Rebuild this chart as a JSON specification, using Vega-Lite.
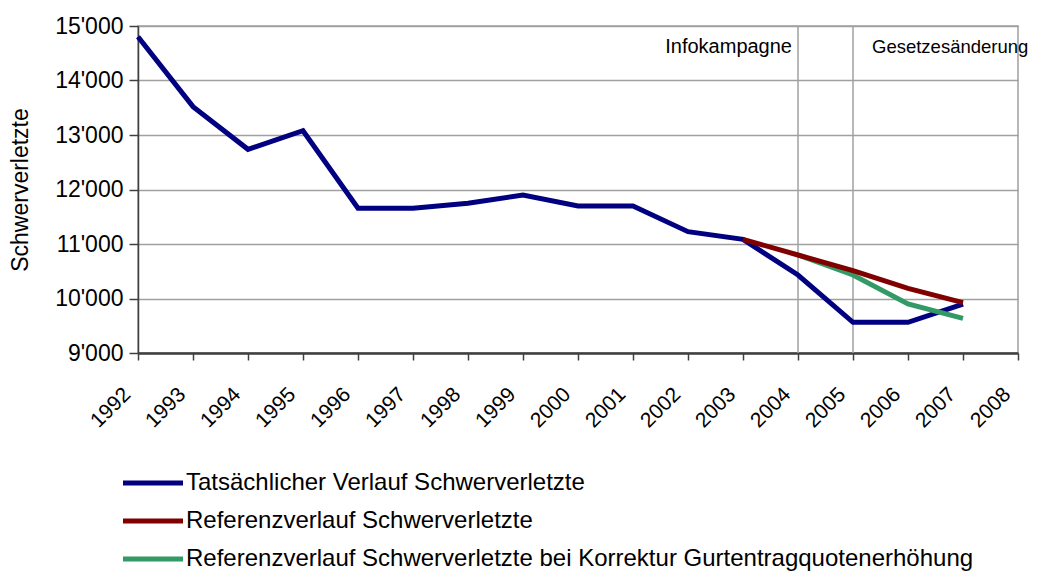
{
  "$schema": "https://vega.github.io/schema/vega-lite/v6.json",
  "width": 880,
  "height": 327,
  "autosize": {"type": "none"},
  "padding": {"left": 138, "top": 26, "right": 37, "bottom": 219},
  "background": "white",
  "config": {
    "font": "Liberation Sans",
    "view": {"stroke": "#a0a0a0", "strokeWidth": 1.5}
  },
  "datasets": {
    "series": [
      {"year": 1992, "value": 14804, "series": "Tatsächlicher Verlauf Schwerverletzte"},
      {"year": 1993, "value": 13520, "series": "Tatsächlicher Verlauf Schwerverletzte"},
      {"year": 1994, "value": 12737, "series": "Tatsächlicher Verlauf Schwerverletzte"},
      {"year": 1995, "value": 13079, "series": "Tatsächlicher Verlauf Schwerverletzte"},
      {"year": 1996, "value": 11655, "series": "Tatsächlicher Verlauf Schwerverletzte"},
      {"year": 1997, "value": 11655, "series": "Tatsächlicher Verlauf Schwerverletzte"},
      {"year": 1998, "value": 11747, "series": "Tatsächlicher Verlauf Schwerverletzte"},
      {"year": 1999, "value": 11899, "series": "Tatsächlicher Verlauf Schwerverletzte"},
      {"year": 2000, "value": 11697, "series": "Tatsächlicher Verlauf Schwerverletzte"},
      {"year": 2001, "value": 11697, "series": "Tatsächlicher Verlauf Schwerverletzte"},
      {"year": 2002, "value": 11226, "series": "Tatsächlicher Verlauf Schwerverletzte"},
      {"year": 2003, "value": 11086, "series": "Tatsächlicher Verlauf Schwerverletzte"},
      {"year": 2004, "value": 10431, "series": "Tatsächlicher Verlauf Schwerverletzte"},
      {"year": 2005, "value": 9563, "series": "Tatsächlicher Verlauf Schwerverletzte"},
      {"year": 2006, "value": 9563, "series": "Tatsächlicher Verlauf Schwerverletzte"},
      {"year": 2007, "value": 9899, "series": "Tatsächlicher Verlauf Schwerverletzte"},
      {"year": 2004, "value": 10798, "series": "Referenzverlauf Schwerverletzte bei Korrektur Gurtentragquotenerhöhung"},
      {"year": 2005, "value": 10431, "series": "Referenzverlauf Schwerverletzte bei Korrektur Gurtentragquotenerhöhung"},
      {"year": 2006, "value": 9899, "series": "Referenzverlauf Schwerverletzte bei Korrektur Gurtentragquotenerhöhung"},
      {"year": 2007, "value": 9636, "series": "Referenzverlauf Schwerverletzte bei Korrektur Gurtentragquotenerhöhung"},
      {"year": 2003, "value": 11086, "series": "Referenzverlauf Schwerverletzte"},
      {"year": 2004, "value": 10798, "series": "Referenzverlauf Schwerverletzte"},
      {"year": 2005, "value": 10510, "series": "Referenzverlauf Schwerverletzte"},
      {"year": 2006, "value": 10187, "series": "Referenzverlauf Schwerverletzte"},
      {"year": 2007, "value": 9924, "series": "Referenzverlauf Schwerverletzte"}
    ],
    "events": [
      {"year": 2004, "label": "Infokampagne", "value": 14615},
      {"year": 2005, "label": "Gesetzesänderung", "value": 14615}
    ]
  },
  "layer": [
    {
      "data": {"name": "events"},
      "mark": {"type": "rule", "color": "#a0a0a0", "strokeWidth": 1.5},
      "encoding": {
        "x": {"field": "year", "type": "quantitative", "scale": {"domain": [1992, 2008], "nice": false, "zero": false}}
      }
    },
    {
      "data": {"name": "events"},
      "transform": [{"filter": "datum.year == 2004"}],
      "mark": {"type": "text", "align": "right", "baseline": "middle", "dx": -6, "fontSize": 20, "color": "#000000"},
      "encoding": {
        "x": {"field": "year", "type": "quantitative"},
        "y": {"field": "value", "type": "quantitative"},
        "text": {"field": "label"}
      }
    },
    {
      "data": {"name": "events"},
      "transform": [{"filter": "datum.year == 2005"}],
      "mark": {"type": "text", "align": "left", "baseline": "middle", "dx": 19, "fontSize": 18.5, "color": "#000000"},
      "encoding": {
        "x": {"field": "year", "type": "quantitative"},
        "y": {"field": "value", "type": "quantitative"},
        "text": {"field": "label"}
      }
    },
    {
      "data": {"name": "series"},
      "mark": {"type": "line", "strokeJoin": "miter", "strokeCap": "butt"},
      "encoding": {
        "x": {
          "field": "year", "type": "quantitative",
          "scale": {"domain": [1992, 2008], "nice": false, "zero": false},
          "axis": {
            "title": null,
            "values": [1992,1993,1994,1995,1996,1997,1998,1999,2000,2001,2002,2003,2004,2005,2006,2007,2008],
            "format": "d",
            "grid": false,
            "labelAngle": -45,
            "labelAlign": "right",
            "labelBaseline": "middle",
            "labelFontSize": 21,
            "labelColor": "#000000",
            "labelPadding": 31,
            "labelOffset": -11,
            "labelOverlap": false,
            "labelFlush": false,
            "tickSize": 7,
            "tickColor": "#404040",
            "tickWidth": 1.5,
            "domainColor": "#404040",
            "domainWidth": 2.5
          }
        },
        "y": {
          "field": "value", "type": "quantitative",
          "scale": {"domain": [9000, 15000], "nice": false, "zero": false},
          "axis": {
            "title": "Schwerverletzte",
            "titleFontSize": 23,
            "titleFontWeight": "normal",
            "titleColor": "#000000",
            "titlePadding": 22,
            "values": [9000, 10000, 11000, 12000, 13000, 14000, 15000],
            "labelExpr": "replace(format(datum.value, ','), ',', \"'\")",
            "labelFontSize": 23,
            "labelColor": "#000000",
            "labelPadding": 6,
            "tickSize": 9,
            "tickColor": "#404040",
            "tickWidth": 1.5,
            "domainColor": "#404040",
            "domainWidth": 1.5,
            "grid": true,
            "gridColor": "#a0a0a0",
            "gridWidth": 1.5
          }
        },
        "color": {
          "field": "series", "type": "nominal",
          "scale": {
            "domain": ["Tatsächlicher Verlauf Schwerverletzte", "Referenzverlauf Schwerverletzte", "Referenzverlauf Schwerverletzte bei Korrektur Gurtentragquotenerhöhung"],
            "range": ["#000080", "#800000", "#339966"]
          },
          "legend": {
            "title": null,
            "orient": "none",
            "legendX": 3,
            "legendY": 445,
            "direction": "vertical",
            "symbolType": "M-6,0H6",
            "symbolSize": 100,
            "symbolStrokeWidth": 5,
            "labelFontSize": 24,
            "labelColor": "#000000",
            "labelOffset": 21,
            "rowPadding": 14,
            "labelLimit": 1000
          }
        },
        "strokeWidth": {
          "field": "series", "type": "nominal",
          "scale": {
            "domain": ["Tatsächlicher Verlauf Schwerverletzte", "Referenzverlauf Schwerverletzte", "Referenzverlauf Schwerverletzte bei Korrektur Gurtentragquotenerhöhung"],
            "range": [5, 5, 3]
          },
          "legend": null
        }
      }
    }
  ]
}
